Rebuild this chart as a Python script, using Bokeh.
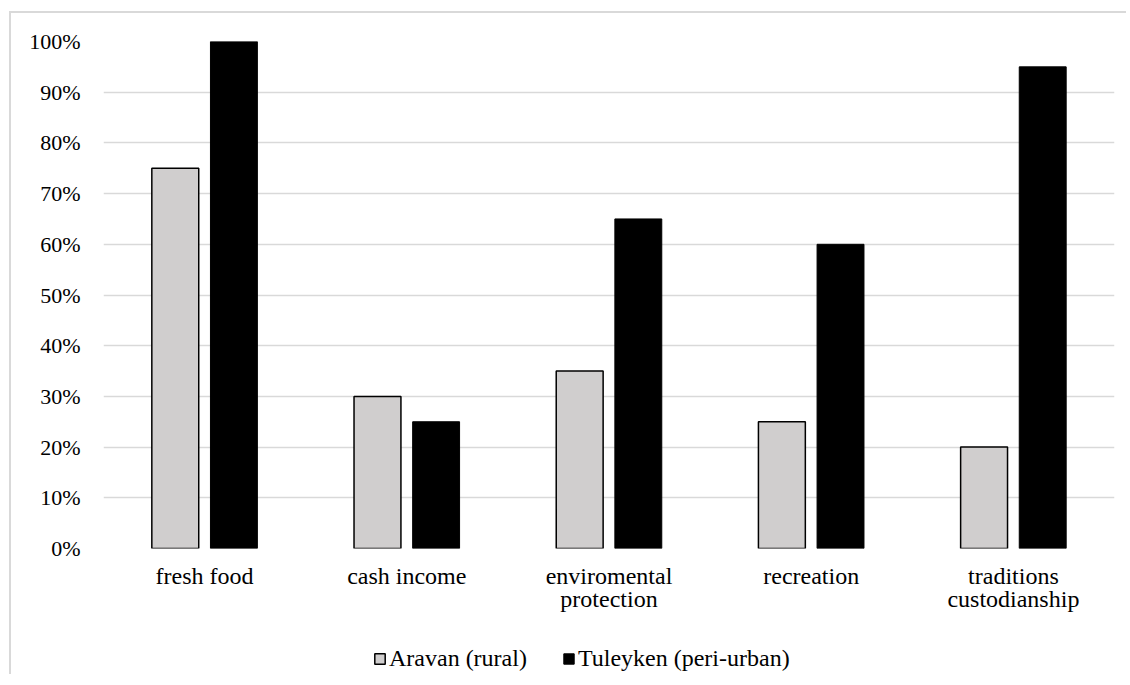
from bokeh.plotting import figure
from bokeh.models import ColumnDataSource, FactorRange, Range1d, NumeralTickFormatter, Legend, LegendItem, FixedTicker
from bokeh.layouts import column
from bokeh.transform import dodge
from bokeh.embed import file_html
from bokeh.resources import INLINE

categories = ["fresh food", "cash income", "enviromental\nprotection", "recreation", "traditions\ncustodianship"]
aravan = [0.75, 0.30, 0.35, 0.25, 0.20]
tuleyken = [1.00, 0.25, 0.65, 0.60, 0.95]
y_ticks = [0.0, 0.1, 0.2, 0.3, 0.4, 0.5, 0.6, 0.7, 0.8, 0.9, 1.0]

FONT = "Liberation Serif"
FS_TICK = "22px"
FS_CAT = "24px"

GRAY = "#d0cece"
src = ColumnDataSource(dict(cat=categories, aravan=aravan, tuleyken=tuleyken))

p = figure(x_range=FactorRange(*categories), y_range=Range1d(0, 1),
           width=1108, height=615, output_backend="svg", toolbar_location=None,
           min_border_left=92, min_border_right=5, min_border_top=28, min_border_bottom=80)
p.outline_line_color = None
p.x_range.range_padding = 0
p.x_range.factor_padding = 0

r1 = p.vbar(x=dodge("cat", -0.145, range=p.x_range), top="aravan", width=0.232, source=src,
            fill_color=GRAY, line_color="black", line_width=1.5)
r2 = p.vbar(x=dodge("cat", 0.145, range=p.x_range), top="tuleyken", width=0.232, source=src,
            fill_color="black", line_color="black", line_width=1)

p.xgrid.grid_line_color = None
p.ygrid.grid_line_color = "#d9d9d9"
p.ygrid.grid_line_width = 1.4
p.yaxis.ticker = FixedTicker(ticks=y_ticks)
p.yaxis.formatter = NumeralTickFormatter(format="0%")

for ax in (p.xaxis, p.yaxis):
    ax.axis_line_color = None
    ax.major_tick_line_color = None
    ax.minor_tick_line_color = None
    ax.major_label_text_font = FONT
    ax.major_label_text_color = "black"
p.yaxis.major_label_text_font_size = FS_TICK
p.xaxis.major_label_text_font_size = FS_CAT
p.xaxis.major_label_text_line_height = 0.92
p.yaxis.major_label_standoff = 17
p.xaxis.major_label_standoff = 8

# legend strip: muted (invisible) copies of the bars carry the legend glyphs
p2 = figure(x_range=FactorRange(*categories), y_range=Range1d(0, 1),
            width=1108, height=46, output_backend="svg", toolbar_location=None,
            min_border_left=0, min_border_right=0, min_border_top=0, min_border_bottom=0)
p2.axis.visible = False
p2.grid.visible = False
p2.outline_line_color = None
l1 = p2.vbar(x="cat", top="aravan", width=0.2, source=src,
             fill_color=GRAY, line_color="black", line_width=1.5,
             muted_fill_alpha=0, muted_line_alpha=0)
l2 = p2.vbar(x="cat", top="tuleyken", width=0.2, source=src,
             fill_color="black", line_color="black", line_width=1,
             muted_fill_alpha=0, muted_line_alpha=0)
l1.muted = True
l2.muted = True

legend = Legend(items=[LegendItem(label="Aravan (rural)", renderers=[l1]),
                       LegendItem(label="Tuleyken (peri-urban)", renderers=[l2])],
                orientation="horizontal", location=(270, 2), click_policy="none",
                label_text_font=FONT, label_text_font_size=FS_CAT, label_text_color="black",
                glyph_width=13, glyph_height=13, spacing=35, label_standoff=3,
                padding=0, margin=0, border_line_color=None, background_fill_alpha=0)
p2.add_layout(legend, "center")

layout = column(p, p2, spacing=0)
layout.styles = {"border-left": "2px solid #d9d9d9", "border-top": "2px solid #d9d9d9",
                 "margin-left": "9px", "margin-top": "11px", "padding-right": "7px"}

open("out.html", "w").write(file_html(layout, INLINE))
